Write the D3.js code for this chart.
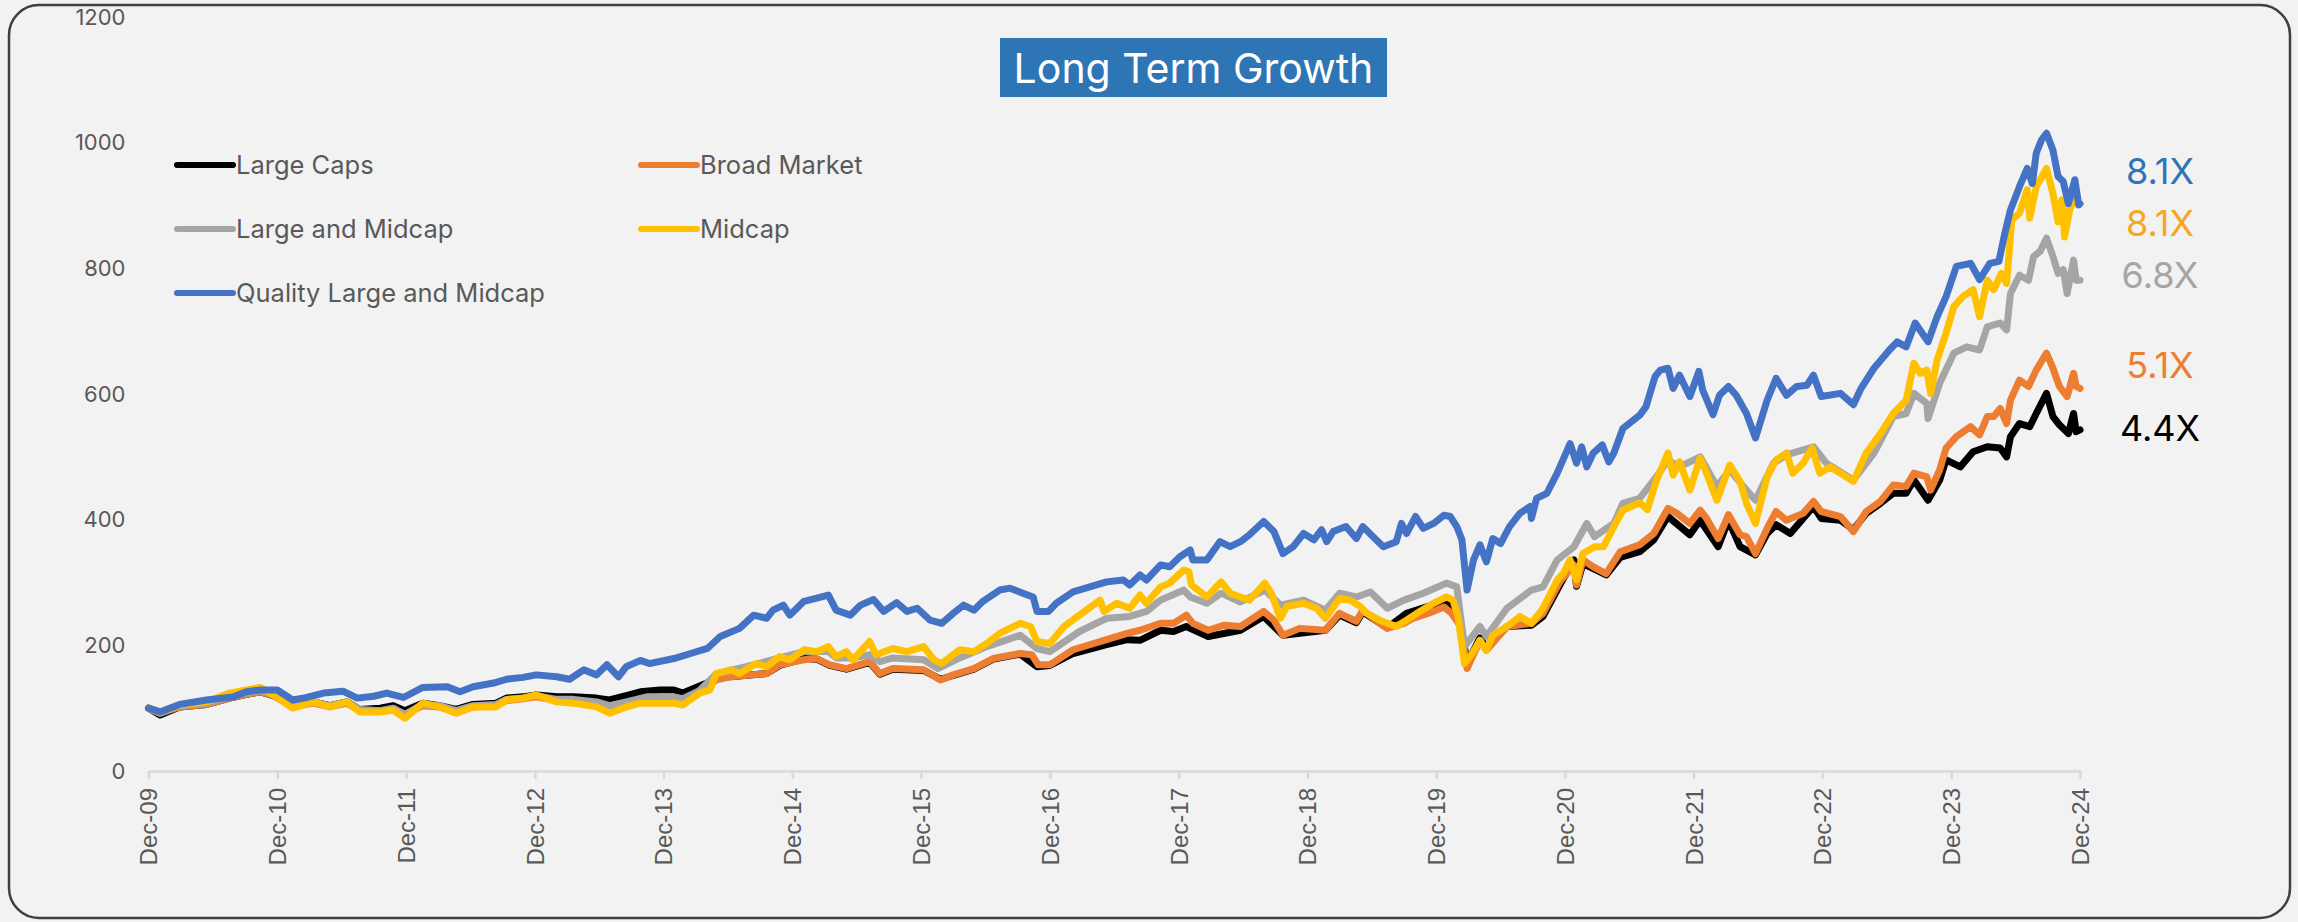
<!DOCTYPE html>
<html>
<head>
<meta charset="utf-8" />
<title>Long Term Growth</title>
<script src="https://cdnjs.cloudflare.com/ajax/libs/d3/7.8.5/d3.min.js"></script>
<style>
  body { margin: 0; background: #f2f2f2; }
  svg { display: block; }
</style>
</head>
<body>
<script>
// x tick labels, one per December
var tickLabels = ["Dec-09","Dec-10","Dec-11","Dec-12","Dec-13","Dec-14","Dec-15","Dec-16",
                  "Dec-17","Dec-18","Dec-19","Dec-20","Dec-21","Dec-22","Dec-23","Dec-24"];
var yTicks = [0, 200, 400, 600, 800, 1000, 1200];

var seriesNames = ["Large Caps", "Broad Market", "Large and Midcap", "Midcap", "Quality Large and Midcap"];

// [years since Dec-09, index value]
var largeCaps = [[0,100],[0.09,89],[0.24,102],[0.45,106],[0.63,116],[0.76,122],[0.87,126],[0.97,120],[1.12,104],[1.28,110],[1.41,104],[1.54,110],[1.64,98],[1.80,100],[1.90,104],[1.99,96],[2.13,108],[2.26,104],[2.39,98],[2.52,106],[2.70,108],[2.78,116],[2.91,118],[3.01,121],[3.17,118],[3.30,118],[3.48,116],[3.58,113],[3.71,120],[3.82,126],[3.97,129],[4.08,129],[4.15,124],[4.36,142],[4.41,153],[4.52,150],[4.80,155],[4.90,168],[5.09,179],[5.19,178],[5.29,168],[5.42,162],[5.60,173],[5.68,154],[5.78,162],[6.02,160],[6.15,146],[6.25,152],[6.41,162],[6.56,178],[6.77,186],[6.90,166],[7.00,168],[7.18,187],[7.44,201],[7.60,209],[7.70,208],[7.86,224],[7.96,222],[8.06,230],[8.23,214],[8.48,224],[8.66,246],[8.81,216],[9.14,224],[9.25,248],[9.38,236],[9.43,253],[9.62,228],[9.77,251],[9.98,265],[10.06,267],[10.12,264],[10.19,235],[10.24,171],[10.34,212],[10.39,196],[10.55,230],[10.74,232],[10.83,246],[10.96,296],[11.07,336],[11.09,294],[11.14,330],[11.32,312],[11.43,340],[11.58,349],[11.69,368],[11.80,405],[11.97,376],[12.05,399],[12.19,357],[12.27,399],[12.36,357],[12.48,344],[12.57,378],[12.64,392],[12.75,378],[12.93,421],[12.99,402],[13.14,399],[13.24,384],[13.34,410],[13.45,426],[13.55,442],[13.65,442],[13.71,463],[13.82,431],[13.91,463],[13.96,495],[14.07,484],[14.17,508],[14.28,516],[14.38,514],[14.43,500],[14.46,532],[14.53,553],[14.61,548],[14.66,569],[14.74,601],[14.79,564],[14.84,551],[14.91,537],[14.95,569],[14.97,540],[15.0,543]];

var broadMarket = [[0,100],[0.09,92],[0.24,102],[0.45,106],[0.63,116],[0.76,122],[0.87,126],[0.97,120],[1.12,102],[1.28,108],[1.41,102],[1.54,108],[1.64,96],[1.80,96],[1.90,98],[1.99,90],[2.13,104],[2.26,102],[2.39,94],[2.52,102],[2.70,104],[2.78,112],[2.91,115],[3.01,118],[3.17,112],[3.30,112],[3.48,108],[3.58,100],[3.71,106],[3.87,114],[4.08,116],[4.15,112],[4.28,125],[4.41,145],[4.52,150],[4.80,155],[4.90,169],[5.09,177],[5.19,179],[5.29,169],[5.42,163],[5.60,174],[5.68,155],[5.78,163],[6.02,161],[6.15,145],[6.25,153],[6.41,163],[6.56,179],[6.77,187],[6.86,185],[6.91,169],[7.00,169],[7.18,193],[7.44,209],[7.60,219],[7.70,224],[7.86,235],[7.96,235],[8.06,248],[8.11,235],[8.23,224],[8.35,232],[8.48,230],[8.66,254],[8.74,240],[8.81,216],[8.94,227],[9.14,224],[9.25,251],[9.38,238],[9.43,256],[9.51,243],[9.62,227],[9.75,235],[9.82,243],[9.98,254],[10.06,261],[10.12,251],[10.19,230],[10.24,163],[10.34,208],[10.39,192],[10.55,230],[10.74,235],[10.83,251],[10.96,301],[11.07,328],[11.09,296],[11.14,336],[11.22,325],[11.32,314],[11.43,349],[11.58,360],[11.69,378],[11.80,418],[11.87,410],[11.97,394],[12.05,415],[12.10,402],[12.19,370],[12.27,408],[12.36,376],[12.41,373],[12.48,346],[12.57,386],[12.64,413],[12.72,399],[12.85,410],[12.93,429],[12.99,413],[13.14,405],[13.24,381],[13.34,413],[13.45,429],[13.55,455],[13.65,453],[13.71,474],[13.81,468],[13.84,447],[13.91,479],[13.96,514],[14.04,532],[14.15,548],[14.22,535],[14.28,564],[14.33,564],[14.38,577],[14.43,553],[14.46,590],[14.53,622],[14.60,612],[14.66,638],[14.74,665],[14.79,641],[14.84,612],[14.90,596],[14.95,633],[14.97,612],[15.0,609]];

var largeMidcap = [[0,100],[0.09,92],[0.24,104],[0.45,108],[0.63,118],[0.76,124],[0.87,128],[0.97,122],[1.12,104],[1.28,110],[1.41,104],[1.54,110],[1.64,98],[1.80,96],[1.90,100],[1.99,90],[2.13,106],[2.26,104],[2.39,96],[2.52,104],[2.70,106],[2.78,114],[2.91,116],[3.01,120],[3.17,114],[3.30,114],[3.48,110],[3.58,104],[3.71,110],[3.87,118],[4.08,118],[4.15,115],[4.28,128],[4.41,155],[4.52,160],[4.72,170],[4.90,180],[5.09,190],[5.28,190],[5.34,180],[5.47,180],[5.60,185],[5.68,174],[5.78,180],[6.02,177],[6.13,163],[6.30,180],[6.51,198],[6.77,216],[6.90,195],[7.00,190],[7.23,222],[7.44,243],[7.62,246],[7.75,254],[7.86,272],[8.04,288],[8.09,277],[8.22,267],[8.33,283],[8.48,269],[8.67,288],[8.79,264],[8.97,272],[9.14,256],[9.25,283],[9.38,277],[9.49,285],[9.62,259],[9.75,272],[9.90,283],[10.08,299],[10.16,293],[10.22,198],[10.34,230],[10.39,214],[10.55,259],[10.74,288],[10.83,293],[10.94,336],[11.07,357],[11.17,394],[11.23,373],[11.38,394],[11.45,426],[11.58,434],[11.71,468],[11.80,495],[11.89,484],[12.05,500],[12.18,453],[12.28,479],[12.41,447],[12.48,431],[12.62,490],[12.72,503],[12.93,516],[13.03,490],[13.24,463],[13.40,506],[13.55,564],[13.65,569],[13.71,601],[13.81,585],[13.82,561],[13.91,617],[14.02,665],[14.12,675],[14.22,670],[14.28,707],[14.38,713],[14.43,702],[14.46,760],[14.53,789],[14.60,781],[14.64,819],[14.69,827],[14.74,848],[14.79,819],[14.83,792],[14.87,798],[14.90,760],[14.95,813],[14.97,781],[15.0,781]];

var midcap = [[0,100],[0.09,94],[0.24,105],[0.45,110],[0.63,124],[0.76,129],[0.87,133],[0.97,121],[1.12,100],[1.28,110],[1.41,102],[1.54,110],[1.64,94],[1.80,94],[1.90,97],[1.99,84],[2.13,108],[2.26,102],[2.39,92],[2.52,102],[2.70,102],[2.78,113],[2.91,116],[3.01,121],[3.17,110],[3.30,108],[3.48,102],[3.58,92],[3.71,102],[3.82,108],[4.08,108],[4.15,105],[4.28,124],[4.36,129],[4.41,155],[4.52,161],[4.59,155],[4.72,171],[4.80,166],[4.90,182],[4.98,177],[5.09,193],[5.19,190],[5.28,198],[5.34,182],[5.42,190],[5.47,177],[5.60,206],[5.65,185],[5.78,195],[5.89,190],[6.02,198],[6.10,177],[6.16,171],[6.30,193],[6.41,190],[6.51,203],[6.61,219],[6.77,235],[6.85,230],[6.90,206],[7.00,203],[7.11,230],[7.23,248],[7.39,272],[7.42,254],[7.52,267],[7.62,259],[7.70,280],[7.75,267],[7.86,293],[7.93,299],[8.04,320],[8.08,317],[8.10,296],[8.22,277],[8.33,301],[8.40,283],[8.48,277],[8.55,272],[8.67,299],[8.72,283],[8.79,243],[8.84,262],[8.97,267],[9.07,259],[9.14,243],[9.25,275],[9.33,272],[9.41,262],[9.46,251],[9.56,240],[9.69,230],[9.77,240],[9.85,251],[9.98,267],[10.08,277],[10.13,272],[10.17,246],[10.22,171],[10.28,187],[10.34,208],[10.39,192],[10.44,216],[10.55,230],[10.65,246],[10.74,235],[10.83,259],[10.94,304],[10.99,315],[11.04,336],[11.09,304],[11.14,346],[11.23,357],[11.30,357],[11.38,389],[11.45,415],[11.58,427],[11.64,416],[11.71,462],[11.80,506],[11.84,471],[11.89,492],[11.97,447],[12.05,498],[12.10,474],[12.18,431],[12.28,487],[12.36,461],[12.41,426],[12.48,394],[12.57,468],[12.64,495],[12.72,506],[12.77,474],[12.85,490],[12.92,514],[12.98,474],[13.06,484],[13.14,474],[13.24,461],[13.34,506],[13.45,537],[13.55,569],[13.65,590],[13.71,649],[13.76,633],[13.81,638],[13.84,601],[13.89,654],[13.96,697],[14.02,739],[14.09,755],[14.17,766],[14.22,723],[14.28,781],[14.33,766],[14.39,792],[14.43,776],[14.47,877],[14.53,888],[14.59,925],[14.61,880],[14.66,930],[14.74,959],[14.79,919],[14.83,874],[14.86,909],[14.88,850],[14.92,893],[14.95,909]];

var quality = [[0,100],[0.09,94],[0.24,106],[0.45,113],[0.66,118],[0.76,126],[0.87,129],[1.00,129],[1.12,113],[1.23,117],[1.36,124],[1.51,127],[1.62,116],[1.75,119],[1.85,124],[1.98,117],[2.13,133],[2.32,134],[2.42,126],[2.52,134],[2.68,140],[2.78,146],[2.91,149],[3.01,153],[3.17,150],[3.27,146],[3.38,161],[3.48,153],[3.56,169],[3.65,150],[3.71,166],[3.82,176],[3.89,171],[4.08,179],[4.21,187],[4.34,195],[4.44,214],[4.59,227],[4.70,248],[4.80,243],[4.85,256],[4.93,264],[4.98,248],[5.09,270],[5.19,275],[5.28,280],[5.34,256],[5.45,248],[5.53,264],[5.63,273],[5.71,254],[5.81,268],[5.89,254],[5.97,259],[6.07,240],[6.16,235],[6.25,251],[6.33,264],[6.41,256],[6.48,270],[6.61,288],[6.69,291],[6.79,283],[6.87,277],[6.90,254],[6.99,254],[7.05,267],[7.18,285],[7.31,293],[7.44,301],[7.57,304],[7.62,296],[7.70,312],[7.75,304],[7.86,328],[7.93,325],[8.01,341],[8.09,352],[8.11,336],[8.22,336],[8.32,365],[8.40,357],[8.48,365],[8.55,376],[8.66,397],[8.74,381],[8.81,346],[8.89,357],[8.97,378],[9.05,368],[9.11,384],[9.15,365],[9.20,381],[9.30,389],[9.38,370],[9.43,389],[9.51,373],[9.59,357],[9.69,365],[9.73,394],[9.77,378],[9.84,405],[9.90,386],[9.98,394],[10.06,407],[10.11,405],[10.16,389],[10.20,368],[10.24,288],[10.29,336],[10.34,360],[10.39,333],[10.44,370],[10.50,362],[10.57,389],[10.65,410],[10.73,421],[10.74,402],[10.78,434],[10.86,442],[10.94,474],[11.04,521],[11.09,490],[11.13,516],[11.17,484],[11.22,506],[11.29,519],[11.34,492],[11.38,506],[11.45,545],[11.58,566],[11.63,580],[11.70,628],[11.74,638],[11.80,641],[11.84,609],[11.89,630],[11.97,596],[12.04,636],[12.07,606],[12.15,567],[12.20,598],[12.27,612],[12.33,598],[12.41,569],[12.48,530],[12.57,590],[12.64,625],[12.72,598],[12.80,612],[12.88,614],[12.93,630],[12.99,596],[13.14,601],[13.24,583],[13.30,609],[13.40,641],[13.52,670],[13.58,683],[13.65,675],[13.72,713],[13.82,683],[13.89,723],[13.96,755],[14.04,803],[14.15,808],[14.22,782],[14.30,808],[14.37,811],[14.41,850],[14.46,893],[14.53,930],[14.59,959],[14.63,935],[14.66,983],[14.70,1004],[14.74,1015],[14.79,988],[14.83,946],[14.87,938],[14.91,903],[14.96,941],[14.99,901],[15.0,903]];

// end-of-line multiples, listed top to bottom, with the level each one sits at
var endLabels = ["8.1X", "8.1X", "6.8X", "5.1X", "4.4X"];
var endLabelLevels = [955, 872, 788, 645, 546];

var colors = ["#000000", "#ed7d31", "#a5a5a5", "#ffc000", "#4472c4"];
var endLabelColors = ["#2e75b6", "#f5a623", "#a5a5a5", "#ed7d31", "#000000"];

var W = 2298, H = 922;
var textFont = "Inter, 'Noto Sans', sans-serif";

var svg = d3.select("body").append("svg")
    .attr("width", W).attr("height", H);

// outer rounded frame
svg.append("rect")
    .attr("x", 9).attr("y", 5)
    .attr("width", 2281).attr("height", 913)
    .attr("rx", 30).attr("ry", 30)
    .attr("fill", "#f2f2f2")
    .attr("stroke", "#404040")
    .attr("stroke-width", 2.5);

var x = d3.scaleLinear().domain([0, 15]).range([148.5, 2080]);
var y = d3.scaleLinear().domain([0, 1200]).range([771, 17]);

// y axis: labels only
var yAxis = svg.append("g")
    .attr("transform", "translate(" + x(0) + ",0)")
    .call(d3.axisLeft(y).tickValues(yTicks).tickFormat(d3.format("d"))
        .tickSize(0).tickPadding(23));
yAxis.select(".domain").remove();
yAxis.selectAll("text")
    .attr("fill", "#595959")
    .style("font-family", textFont)
    .style("font-size", "22px");

// x axis with rotated Dec-yy labels
var xAxis = svg.append("g")
    .attr("transform", "translate(0," + y(0) + ")")
    .call(d3.axisBottom(x).tickValues(d3.range(tickLabels.length))
        .tickFormat(function(d) { return tickLabels[d]; })
        .tickSize(8).tickSizeOuter(0));
xAxis.select(".domain").attr("stroke", "#d9d9d9").attr("stroke-width", 2.5);
xAxis.selectAll(".tick line").attr("stroke", "#d9d9d9").attr("stroke-width", 2.5);
xAxis.selectAll("text")
    .attr("fill", "#595959")
    .style("font-family", "'Liberation Sans', Arial, sans-serif")
    .style("font-size", "24px")
    .attr("text-anchor", "end")
    .attr("transform", "rotate(-90)")
    .attr("x", -17).attr("y", 0).attr("dy", "0.35em");

// series lines, first listed is drawn first (lowest)
var allSeries = [largeCaps, broadMarket, largeMidcap, midcap, quality];
var line = d3.line()
    .x(function(d) { return x(d[0]); })
    .y(function(d) { return y(d[1]); });

svg.append("g").selectAll("path")
    .data(allSeries)
    .enter().append("path")
    .attr("d", line)
    .attr("fill", "none")
    .attr("stroke", function(d, i) { return colors[i]; })
    .attr("stroke-width", 7)
    .attr("stroke-linejoin", "round")
    .attr("stroke-linecap", "round");

// legend, two columns
var legendCols = [177, 641], legendRows = [165, 229, 293];
var legend = svg.append("g").selectAll("g")
    .data(seriesNames)
    .enter().append("g")
    .attr("transform", function(d, i) {
        return "translate(" + legendCols[i % 2] + "," + legendRows[Math.floor(i / 2)] + ")";
    });
legend.append("line")
    .attr("x1", 0).attr("x2", 56)
    .attr("stroke", function(d, i) { return colors[i]; })
    .attr("stroke-width", 6)
    .attr("stroke-linecap", "round");
legend.append("text")
    .attr("x", 59).attr("dy", "0.35em")
    .attr("fill", "#595959")
    .style("font-family", textFont)
    .style("font-size", "25.5px")
    .text(function(d) { return d; });

// end labels
svg.append("g").selectAll("text")
    .data(endLabels)
    .enter().append("text")
    .attr("x", x(15) + 80)
    .attr("y", function(d, i) { return y(endLabelLevels[i]); })
    .attr("dy", "0.35em")
    .attr("text-anchor", "middle")
    .attr("fill", function(d, i) { return endLabelColors[i]; })
    .style("font-family", textFont)
    .style("font-size", "36px")
    .text(function(d) { return d; });

// title box
svg.append("rect")
    .attr("x", 1000).attr("y", 38)
    .attr("width", 387).attr("height", 59)
    .attr("fill", "#2e75b6");
svg.append("text")
    .attr("x", 1193.5).attr("y", 83)
    .attr("text-anchor", "middle")
    .attr("fill", "#ffffff")
    .style("font-family", textFont)
    .style("font-size", "41px")
    .text("Long Term Growth");
</script>
</body>
</html>
